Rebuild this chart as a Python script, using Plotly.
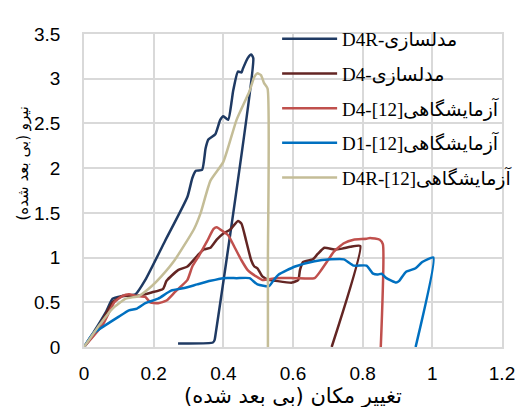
import plotly.graph_objects as go

# D4R - simulation
d4r_sim_x = [0, 0.03, 0.064, 0.082, 0.11, 0.148, 0.176, 0.232, 0.297, 0.311, 0.321, 0.339, 0.349, 0.357,
             0.377, 0.391, 0.400, 0.414, 0.424, 0.428, 0.442, 0.452, 0.456, 0.470, 0.480, 0.486,
             0.378, 0.375, 0.370, 0.27]
d4r_sim_y = [0, 0.18, 0.40, 0.54, 0.57, 0.59, 0.75, 1.18, 1.68, 1.89, 1.97, 1.98, 2.22, 2.32,
             2.38, 2.54, 2.58, 2.54, 2.75, 2.86, 3.08, 3.07, 3.11, 3.23, 3.27, 3.23,
             0.15, 0.08, 0.05, 0.04]

# D4 - simulation
d4_sim_x = [0, 0.036, 0.082, 0.11, 0.148, 0.194, 0.227, 0.237, 0.27, 0.297, 0.33, 0.344, 0.363, 0.381,
            0.40, 0.419, 0.442, 0.452, 0.466, 0.48, 0.489, 0.498, 0.512, 0.531, 0.55, 0.597, 0.615,
            0.62, 0.629, 0.657, 0.671, 0.69, 0.718, 0.741, 0.765, 0.793, 0.711]
d4_sim_y = [0, 0.18, 0.50, 0.57, 0.57, 0.61, 0.65, 0.74, 0.86, 0.90, 1.04, 1.09, 1.11, 1.20,
            1.27, 1.31, 1.41, 1.38, 1.18, 0.97, 0.90, 0.88, 0.79, 0.75, 0.74, 0.72, 0.75,
            0.86, 0.95, 0.98, 1.04, 1.11, 1.09, 1.10, 1.12, 1.13, 0]

# D4 - experiment [12]
d4_exp_x = [0, 0.054, 0.087, 0.11, 0.129, 0.152, 0.176, 0.19, 0.213, 0.237, 0.26, 0.279, 0.297, 0.311,
            0.33, 0.353, 0.372, 0.381, 0.40, 0.414, 0.433, 0.452, 0.47, 0.494, 0.512, 0.55, 0.606,
            0.662, 0.681, 0.709, 0.718, 0.746, 0.774, 0.811, 0.821, 0.849, 0.858, 0.852]
d4_exp_y = [0, 0.25, 0.50, 0.57, 0.59, 0.57, 0.56, 0.50, 0.49, 0.52, 0.61, 0.68, 0.75, 0.90,
            1.02, 1.18, 1.32, 1.34, 1.29, 1.25, 1.11, 0.97, 0.86, 0.79, 0.75, 0.77, 0.77,
            0.77, 0.86, 1.02, 1.07, 1.16, 1.20, 1.21, 1.22, 1.20, 1.15, 0]

# D1 - experiment [12]
d1_exp_x = [0, 0.026, 0.064, 0.10, 0.129, 0.152, 0.176, 0.213, 0.25, 0.288, 0.325, 0.363, 0.40, 0.438,
            0.475, 0.498, 0.531, 0.545, 0.559, 0.606, 0.662, 0.709, 0.746, 0.774, 0.811, 0.83,
            0.844, 0.854, 0.868, 0.896, 0.905, 0.924, 0.952, 0.971, 1.003, 0.952]
d1_exp_y = [0, 0.15, 0.25, 0.34, 0.41, 0.43, 0.49, 0.54, 0.63, 0.66, 0.70, 0.74, 0.77, 0.77,
            0.77, 0.70, 0.68, 0.75, 0.81, 0.90, 0.96, 0.98, 0.98, 0.91, 0.91, 0.82,
            0.81, 0.82, 0.77, 0.72, 0.74, 0.84, 0.88, 0.95, 1.00, 0]

# D4R - experiment [12]
d4r_exp_x = [0, 0.045, 0.082, 0.12, 0.157, 0.194, 0.222, 0.26, 0.316, 0.335, 0.363, 0.40, 0.438,
             0.475, 0.489, 0.498, 0.508, 0.517, 0.527, 0.528, 0.528]
d4r_exp_y = [0, 0.25, 0.43, 0.54, 0.57, 0.68, 0.79, 0.97, 1.32, 1.50, 1.86, 2.07, 2.54,
             2.86, 3.02, 3.06, 3.04, 2.95, 2.89, 1.0, 0]

series = [
    ("D4R-مدلسازی", d4r_sim_x, d4r_sim_y, "#1F3A63"),
    ("D4-مدلسازی", d4_sim_x, d4_sim_y, "#632523"),
    ("D4-[12]آزمایشگاهی", d4_exp_x, d4_exp_y, "#C0504D"),
    ("D1-[12]آزمایشگاهی", d1_exp_x, d1_exp_y, "#0070C0"),
    ("D4R-[12]آزمایشگاهی", d4r_exp_x, d4r_exp_y, "#C4BD97"),
]

fig = go.Figure()
for i, (name, xs, ys, color) in enumerate(series):
    fig.add_trace(go.Scatter(x=xs, y=ys, mode="lines", name=name, legendgroup=str(i),
                             line=dict(color=color, width=2.5, shape="spline", smoothing=0.5)))

grid = "#D9D9D9"
tick_font = dict(family="Liberation Sans, Arial, sans-serif", size=19, color="#000000")
xtitle_font = dict(family="DejaVu Sans, sans-serif", size=21, color="#000000")
ytitle_font = dict(family="DejaVu Sans, sans-serif", size=15, color="#000000")

# page body has an 8px margin, so the figure is sized to fit the window
fig.update_layout(
    width=521, height=399,
    margin=dict(l=76, r=17, t=12, b=60),
    plot_bgcolor="white", paper_bgcolor="white",
    showlegend=True,
    legend=dict(x=0.462, y=1.045, xanchor="left", yanchor="top", bgcolor="rgba(0,0,0,0)",
                font=dict(family="Liberation Serif, DejaVu Sans, serif", size=19, color="#000000"),
                itemwidth=55, tracegroupgap=7),
    annotations=[
        dict(text="\u200fتغییر مکان (بی بعد شده)\u200f", xref="paper", yref="paper", x=0.5, y=0,
             xanchor="center", yanchor="middle", yshift=-49, showarrow=False, font=xtitle_font),
        dict(text="\u200fنیرو (بی بعد شده)\u200f", xref="paper", yref="paper", x=0, y=0.5,
             xanchor="center", yanchor="middle", xshift=-62, yshift=27, textangle=-90,
             showarrow=False, font=ytitle_font),
    ],
)
fig.update_xaxes(range=[0, 1.2], dtick=0.2, tick0=0, showgrid=True, gridcolor=grid, gridwidth=1.5,
                 zeroline=False, showline=True, linecolor=grid, linewidth=1.5, mirror=True,
                 tickfont=tick_font, ticks="outside", ticklen=8, tickcolor="rgba(0,0,0,0)",
                 automargin=False)
fig.update_yaxes(range=[0, 3.5], dtick=0.5, tick0=0, showgrid=True, gridcolor=grid, gridwidth=1.5,
                 zeroline=False, showline=True, linecolor=grid, linewidth=1.5, mirror=True,
                 tickfont=tick_font, ticks="outside", ticklen=18, tickcolor="rgba(0,0,0,0)",
                 automargin=False)

fig.write_html("out.html")
